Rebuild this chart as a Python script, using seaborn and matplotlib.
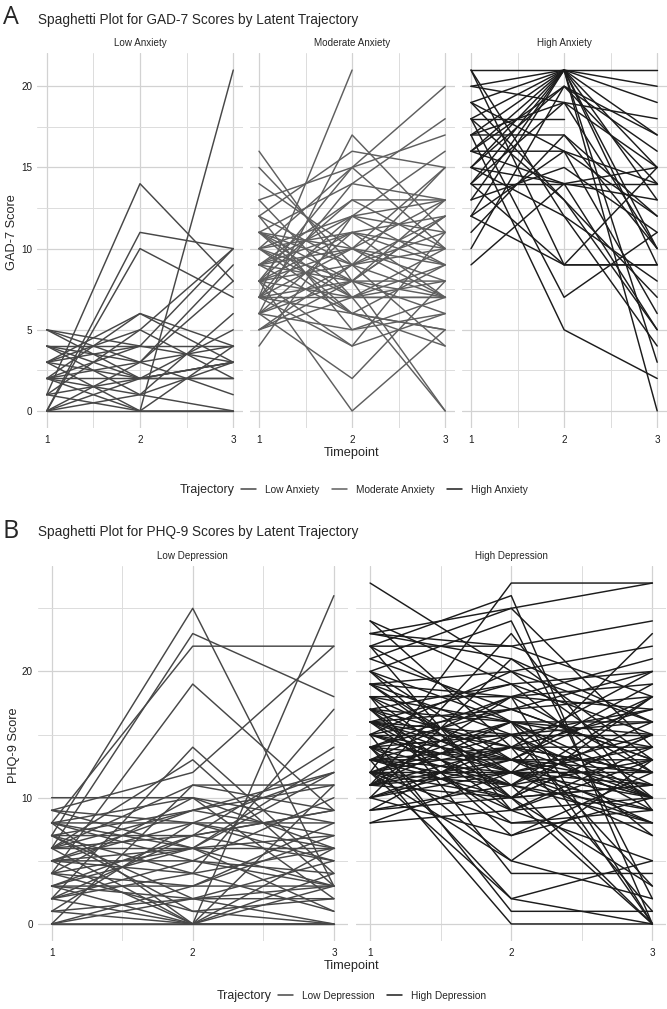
import numpy as np
import pandas as pd
import seaborn as sns
import matplotlib.pyplot as plt
from matplotlib.lines import Line2D
from matplotlib.ticker import MultipleLocator

nan = np.nan

# GAD-7 scores, one entry per participant, timepoints 1/2/3 (nan = missing)
low_anx_t1 = [1, 0, 0, 5, 4, 3, 2, 2, 3, 2, 0, 4, 5, 1, 3, 0, 2, 4, 1, 3, 2, 0, 4, 5, 3, 1, 2, 0]
low_anx_t2 = [14, 11, 10, 2, 4, 6, 2, 0, 5, 4, 3, 1, 3, 2, 4, 0, 1, 3, 5, 0, 6, 2, 2, 4, 2, 0, 3, 1]
low_anx_t3 = [8, 10, 7, 3, 4, 3, 2, 21, 10, 10, 9, 6, 4, 5, 3, 0, 0, 1, 2, 0, 4, 3, 2, nan, 3, 4, 8, 3]

mod_anx_t1 = [7, 6, 16, 15, 12, 8, 11, 10, 9, 7, 11, 8, 6, 9, 10, 5, 7, 12, 8, 4, 11, 8, 6, 10, 13, 7,
              9, 11, 8, 6, 10, 7, 9, 5, 12, 8, 11, 6, 9, 7, 14, 10, 8, 13, 7, 6, 9, 11, 5, 8, 10, 7]
mod_anx_t2 = [21, 17, 8, 9, 16, 15, 14, 15, 13, 12, 10, 7, 11, 8, 6, 9, 7, 5, 10, 12, 9, 0, 2, 8, 7, 14,
              11, 7, 9, 8, 12, 6, 10, 7, 9, 13, 8, 5, 6, 10, 10, 7, 11, 15, 4, 9, 12, 6, 8, 4, 11, 8]
mod_anx_t3 = [nan, 11, 7, 4, 15, 20, 18, 17, 13, 16, 9, 10, 12, 8, 5, 12, 7, 6, 7, 9, 15, 5, 8, 0, 0, 13,
              10, 7, 11, 6, 13, 9, 13, 8, 7, 10, 12, 7, 4, 15, 8, 9, 7, 10, 6, 10, 11, 5, 12, 11, 9, 13]

high_anx_t1 = [21, 18, 17, 14, 12, 20, 19, 15, 13, 12, 16, 21, 18, 17, 19, 16, 15, 14, 10, 11, 9, 21,
               18, 16, 14, 13, 15, 19, 17, 20, 12, 14, 15, 16, 18, 17]
high_anx_t2 = [21, 18, 17, 14, 9, 21, 21, 21, 21, 21, 20, 12, 7, 5, 13, 16, 14, 19, 20, 17, 14, 9,
               13, 21, 21, 15, 12, 16, 21, 19, 16, 9, 20, 14, 21, 19]
high_anx_t3 = [21, nan, 12, 14, 9, 17, 15, 19, 20, 10, 16, 8, 11, 2, 5, 12, 13, 18, 14, 10, 15, 9,
               7, 0, 3, 11, 4, 6, 9, 15, 14, 15, 17, 5, 13, 10]

# PHQ-9 scores
low_dep_t1 = [7, 6, 8, 4, 2, 6, 9, 0, 10, 7, 8, 5, 3, 4, 6, 2, 0, 9, 1, 5, 3, 7, 8, 6, 4, 2,
              0, 5, 3, 7, 1, 6, 8, 4, 7, 5, 2, 0, 6, 8, 3, 9, 4, 5, 7, 1, 6, 2, 8, 5, 3, 0]
low_dep_t2 = [25, 23, 22, 19, 14, 13, 12, 11, 10, 9, 10, 8, 7, 6, 6, 4, 0, 8, 2, 5, 3, 7, 0, 0, 1, 0,
              2, 9, 6, 4, 8, 11, 6, 3, 2, 0, 5, 3, 7, 5, 0, 6, 10, 4, 1, 0, 9, 7, 8, 6, 2, 0]
low_dep_t3 = [3, 18, 22, 9, 4, 3, 22, 11, 6, 12, 2, 12, 14, 13, 6, 17, 26, 8, 5, 3, 7, 9, 4, 3, 2, 0,
              2, 7, 12, 6, 5, 9, 1, 3, 0, 11, 4, 8, 5, 10, 6, 3, 8, 1, 0, 0, 11, 9, 6, 7, 3, 0]

high_dep_t1 = [27, 12, 22, 24, 23, 21, 20, 23, 22, 19, 18, 17, 16, 15, 14, 13, 12, 11, 10, 9, 8, 16,
               18, 15, 13, 14, 12, 17, 20, 19, 11, 10, 16, 14, 13, 15, 12, 11, 22, 24, 19, 18, 17, 16,
               14, 13, 12, 10, 9, 11, 15, 16, 17, 18, 20, 21, 14, 13, 12, 10, 8, 11, 15, 16, 19, 14,
               12, 13, 17, 22, 18, 15, 16, 11, 12, 14, 10, 13, 20, 23, 9, 17, 12, 15, 14, 11, 16, 19,
               13, 12]
high_dep_t2 = [20, 27, 26, 19, 22, 25, 24, 25, 22, 20, 18, 16, 13, 15, 17, 12, 10, 14, 12, 11, 9, 8,
               4, 1, 0, 2, 5, 7, 10, 15, 23, 21, 19, 18, 16, 13, 14, 12, 16, 14, 11, 13, 9, 17,
               11, 10, 8, 13, 15, 16, 20, 12, 14, 16, 13, 17, 9, 14, 11, 7, 12, 10, 12, 15, 18, 5,
               2, 18, 12, 9, 10, 17, 10, 18, 15, 13, 14, 11, 16, 21, 10, 19, 16, 11, 15, 13, 14, 12,
               13, 12]
high_dep_t3 = [16, 27, 0, 20, 18, 14, 2, 27, 24, 22, 12, 15, 19, 15, 13, 11, 18, 10, 12, 8, 14, 8,
               4, 1, 0, 5, 13, 10, 0, 3, 9, 16, 10, 21, 0, 12, 20, 23, 11, 17, 9, 10, 5, 18,
               13, 15, 9, 18, 17, 14, 12, 7, 1, 16, 11, 13, 10, 14, 16, 12, 10, 3, 8, 9, 0, 2,
               0, 17, 14, 13, 15, 20, 11, 19, 10, 8, 12, 18, 10, 13, 11, 15, 7, 0, 16, 13, 12, 9,
               10, 15]

anx_levels = ['Low Anxiety', 'Moderate Anxiety', 'High Anxiety']
dep_levels = ['Low Depression', 'High Depression']
anx_colors = ['#474747', '#5f5f5f', '#1c1c1c']
dep_colors = ['#474747', '#1c1c1c']


def to_long(t1, t2, t3, label):
    rows = []
    for i, vals in enumerate(zip(t1, t2, t3)):
        for t, v in zip([1, 2, 3], vals):
            rows.append((f'{label}_{i}', t, v, label))
    df = pd.DataFrame(rows, columns=['id', 'Timepoint', 'Score', 'Trajectory'])
    return df.dropna()


gad = pd.concat([to_long(low_anx_t1, low_anx_t2, low_anx_t3, 'Low Anxiety'),
                 to_long(mod_anx_t1, mod_anx_t2, mod_anx_t3, 'Moderate Anxiety'),
                 to_long(high_anx_t1, high_anx_t2, high_anx_t3, 'High Anxiety')])
phq = pd.concat([to_long(low_dep_t1, low_dep_t2, low_dep_t3, 'Low Depression'),
                 to_long(high_dep_t1, high_dep_t2, high_dep_t3, 'High Depression')])

sns.set_style('white')
plt.rcParams['font.family'] = ['Liberation Sans', 'DejaVu Sans']

W, H = 667, 1009
fig = plt.figure(figsize=(W / 100, H / 100), dpi=100)


def px_axes(left, top, right, bottom):
    return fig.add_axes([left / W, 1 - bottom / H, (right - left) / W, (bottom - top) / H])


def style_axes(ax, ylim, ymaj, first):
    ax.set_xlim(0.9, 3.1)
    ax.set_ylim(*ylim)
    ax.xaxis.set_major_locator(MultipleLocator(1))
    ax.xaxis.set_minor_locator(MultipleLocator(0.5))
    ax.yaxis.set_major_locator(MultipleLocator(ymaj))
    ax.yaxis.set_minor_locator(MultipleLocator(ymaj / 2))
    ax.grid(which='major', color='#d2d2d2', lw=0.9)
    ax.grid(which='minor', color='#dcdcdc', lw=0.7)
    ax.set_axisbelow(True)
    for s in ax.spines.values():
        s.set_visible(False)
    ax.tick_params(which='both', length=0, labelsize=7.1, colors='#1a1a1a')
    ax.tick_params(axis='x', pad=5)
    ax.tick_params(axis='y', pad=3.5)
    if not first:
        ax.tick_params(labelleft=False)
    ax.set_xlabel('')
    ax.set_ylabel('')


# ---- Panel A: GAD-7 ----
anx_bounds = [(37.4, 242.6), (249.7, 454.5), (461.7, 666.5)]
for i, (lev, (l, r)) in enumerate(zip(anx_levels, anx_bounds)):
    ax = px_axes(l, 53, r, 428)
    sub = gad[gad['Trajectory'] == lev]
    sns.lineplot(data=sub, x='Timepoint', y='Score', units='id', estimator=None,
                 hue='Trajectory', palette={lev: anx_colors[i]}, lw=1.05,
                 legend=False, ax=ax)
    style_axes(ax, (-1.05, 22.05), 5, i == 0)
    ax.set_title(lev, fontsize=7.1, pad=5)

fig.text(12 / W, 1 - 232 / H, 'GAD-7 Score', rotation=90, fontsize=9.2, ha='center', va='center')
fig.text(352 / W, 1 - 453 / H, 'Timepoint', fontsize=9.2, ha='center', va='center')
fig.text(11 / W, 1 - 18 / H, 'A', fontsize=18, family='Open Sans', ha='center', va='center')
fig.text(38 / W, 1 - 20 / H, 'Spaghetti Plot for GAD-7 Scores by Latent Trajectory',
         fontsize=9.8, ha='left', va='center')

fig.text(235 / W, 1 - 490 / H, 'Trajectory', fontsize=8.9, ha='right', va='center')
handles = [Line2D([], [], color=c, lw=1.1) for c in anx_colors]
fig.legend(handles, anx_levels, loc='center left', bbox_to_anchor=(241 / W, 1 - 490 / H),
           ncol=3, frameon=False, fontsize=7.3, handlelength=1.5, handletextpad=0.9,
           columnspacing=1.2, borderpad=0, borderaxespad=0)

# ---- Panel B: PHQ-9 ----
dep_bounds = [(37.5, 348), (356, 666.5)]
for i, (lev, (l, r)) in enumerate(zip(dep_levels, dep_bounds)):
    ax = px_axes(l, 566, r, 941)
    sub = phq[phq['Trajectory'] == lev]
    sns.lineplot(data=sub, x='Timepoint', y='Score', units='id', estimator=None,
                 hue='Trajectory', palette={lev: dep_colors[i]}, lw=1.05,
                 legend=False, ax=ax)
    style_axes(ax, (-1.35, 28.35), 10, i == 0)
    ax.set_title(lev, fontsize=7.1, pad=5)

fig.text(14 / W, 1 - 745 / H, 'PHQ-9 Score', rotation=90, fontsize=9.2, ha='center', va='center')
fig.text(352 / W, 1 - 966 / H, 'Timepoint', fontsize=9.2, ha='center', va='center')
fig.text(11 / W, 1 - 531 / H, 'B', fontsize=18, family='Open Sans', ha='center', va='center')
fig.text(38 / W, 1 - 532 / H, 'Spaghetti Plot for PHQ-9 Scores by Latent Trajectory',
         fontsize=9.8, ha='left', va='center')

fig.text(272 / W, 1 - 996 / H, 'Trajectory', fontsize=8.9, ha='right', va='center')
handles = [Line2D([], [], color=c, lw=1.1) for c in dep_colors]
fig.legend(handles, dep_levels, loc='center left', bbox_to_anchor=(278 / W, 1 - 996 / H),
           ncol=2, frameon=False, fontsize=7.3, handlelength=1.5, handletextpad=0.9,
           columnspacing=1.2, borderpad=0, borderaxespad=0)

fig.savefig('out.png', dpi=100)
